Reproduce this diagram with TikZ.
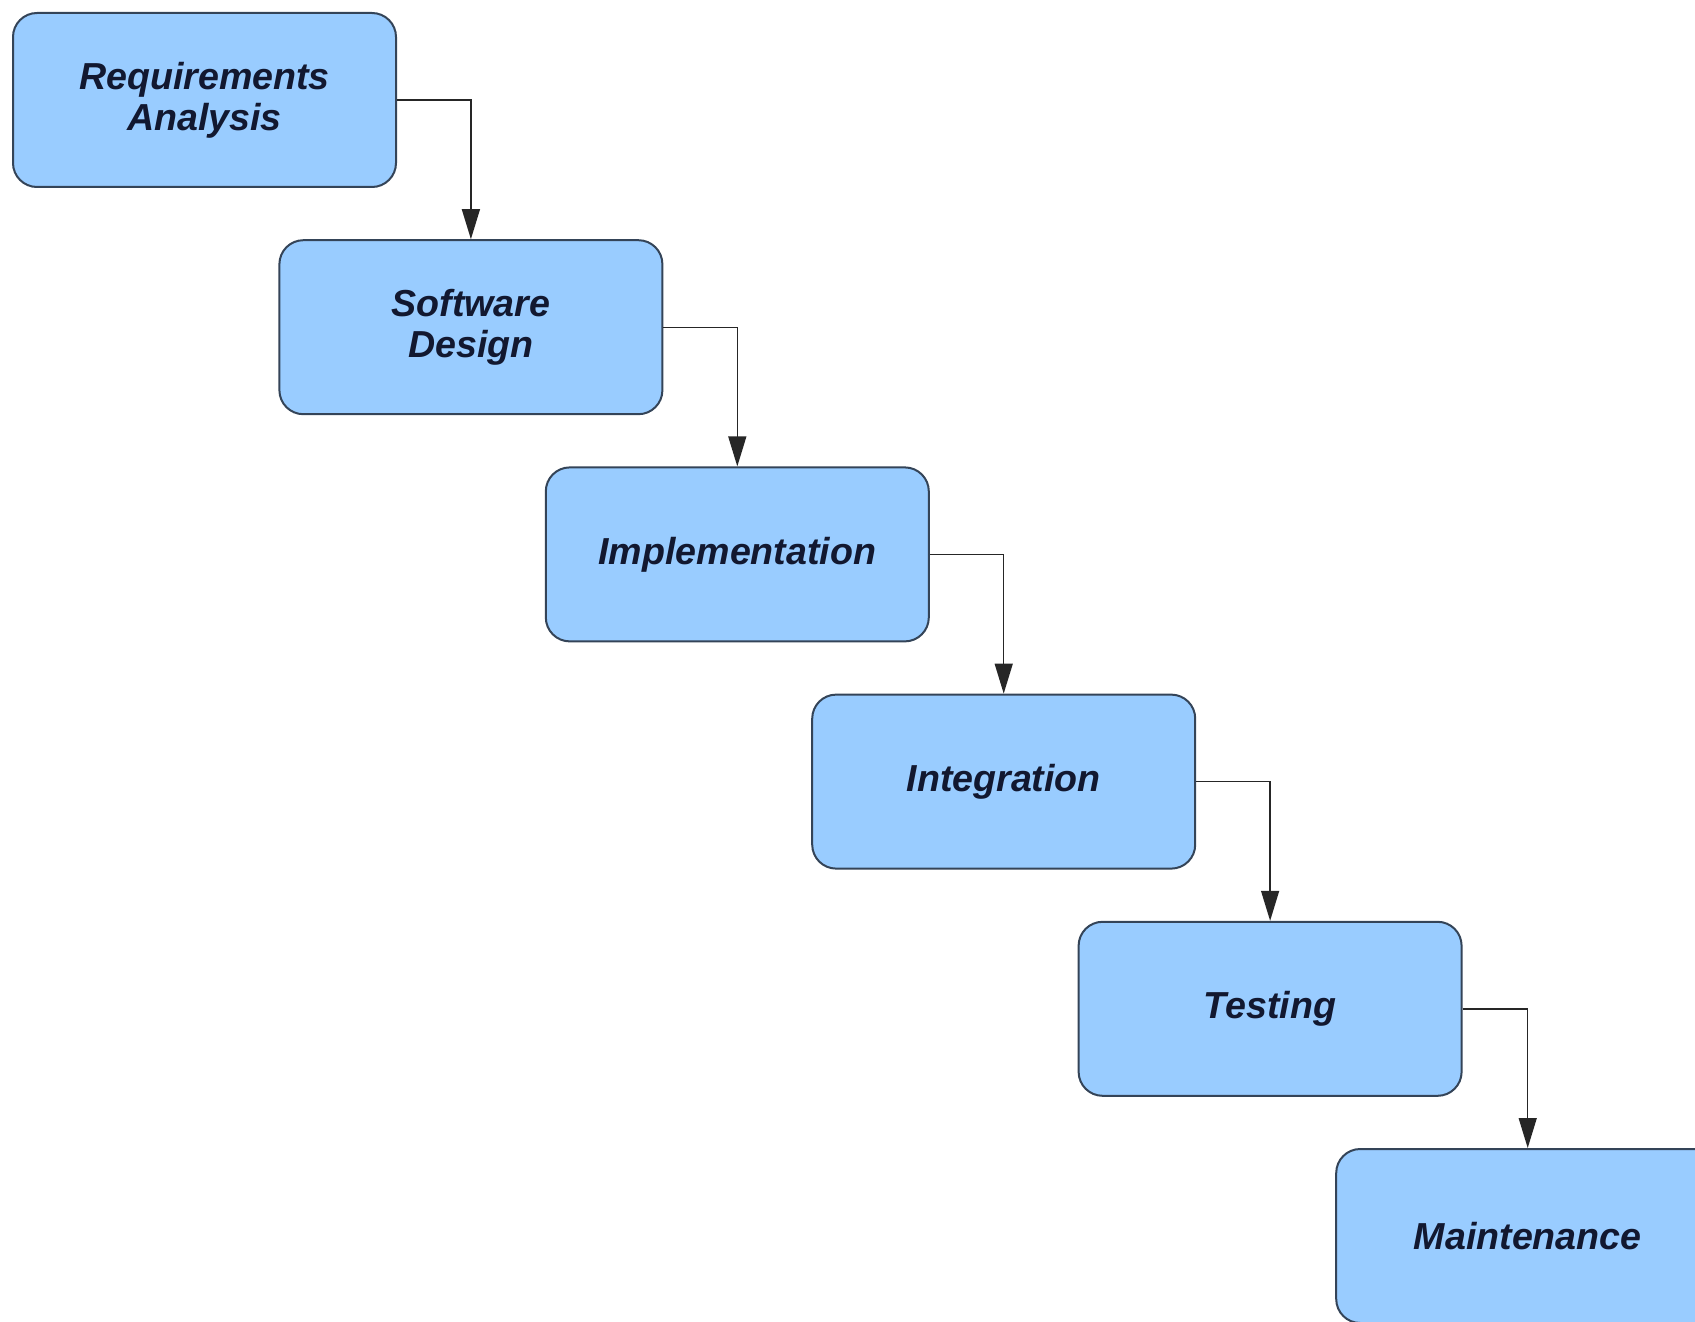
\documentclass[tikz,border=0pt]{standalone}
\usepackage{fontspec}
\setmainfont{Liberation Sans}
\usetikzlibrary{arrows.meta, positioning}
\definecolor{my_lightblue}{RGB}{153, 204, 255}
\definecolor{my_border}{RGB}{52, 68, 88}
\definecolor{my_text}{RGB}{18, 24, 48}
\tikzset {
  phase/.style = {draw=my_border, line width=1pt, fill=my_lightblue, rectangle, rounded corners=12pt, text centered, align=center, inner sep=0pt, minimum width=191.5pt, minimum height=87pt, text=my_text, font=\fontsize{18.8}{20.5}\selectfont\bfseries\itshape},
  line/.style = {-{Triangle[length=15pt, width=9pt]}, line width=0.7pt, color=black!85},
}

\begin{document}
\begin{tikzpicture}
    \useasboundingbox (0,0) rectangle (847.5pt,-660.5pt);

    \node[phase, anchor=north west] (req) at (6pt,-6pt) {Requirements\\Analysis};
    \node[phase, below right=25.6pt and -59.3pt of req] (design) {Software\\Design};
    \node[phase, below right=25.6pt and -59.3pt of design] (impl) {Implementation};
    \node[phase, below right=25.6pt and -59.3pt of impl] (integ) {Integration};
    \node[phase, below right=25.6pt and -59.3pt of integ] (test) {Testing};
    \node[phase, below right=25.6pt and -63.7pt of test] (maint) {Maintenance};

    \draw[line] (req.east) -| (design.north);
    \draw[line] (design.east) -| (impl.north);
    \draw[line] (impl.east) -| (integ.north);
    \draw[line] (integ.east) -| (test.north);
    \draw[line] (test.east) -| (maint.north);

\end{tikzpicture}
\end{document}
